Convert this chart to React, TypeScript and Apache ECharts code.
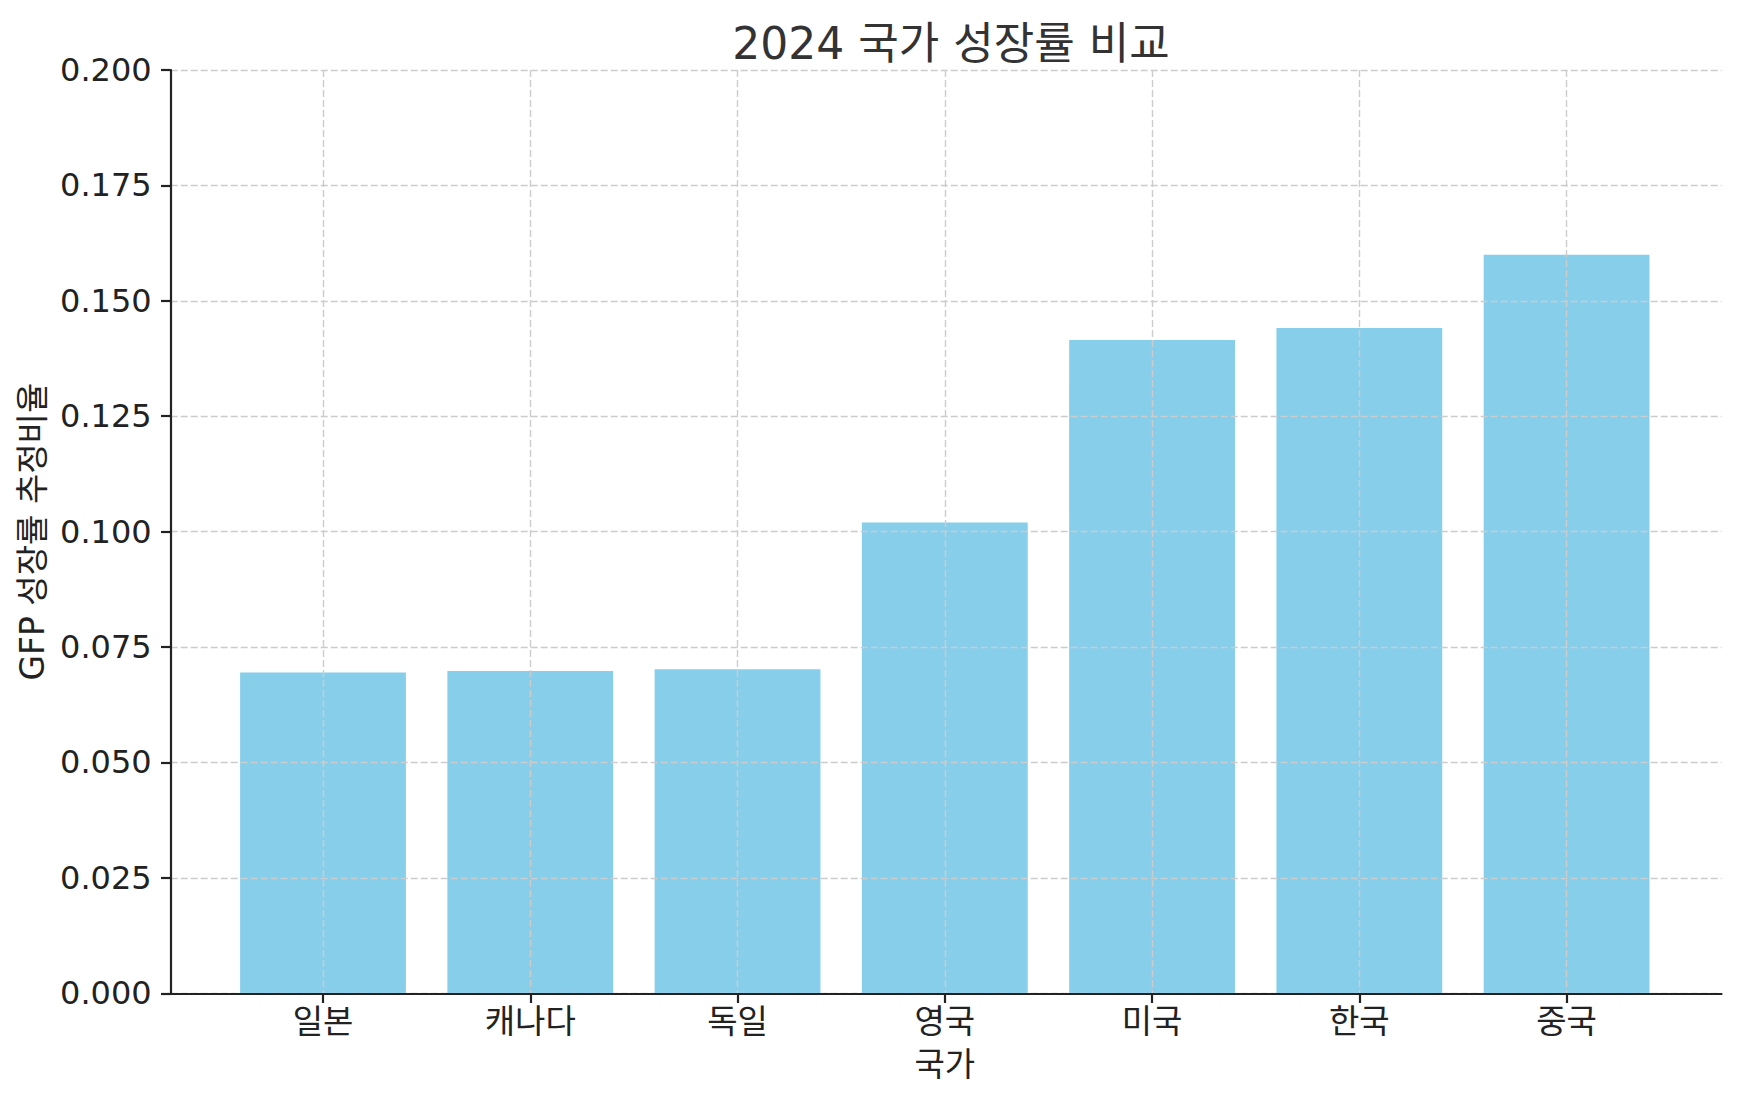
import React, { useEffect, useRef } from "react";
import * as echarts from "echarts";

const titleText = "2024 국가 성장률 비교";
const xAxisTitle = "국가";
const yAxisTitle = "GFP 성장률 추정비율";
const categories = ["일본", "캐나다", "독일", "영국", "미국", "한국", "중국"];
const values = [0.0695, 0.0698, 0.0702, 0.102, 0.1415, 0.1441, 0.16];
const yMin = 0;
const yMax = 0.2;
const yStep = 0.025;

const FONT = '"DejaVu Sans", "Noto Sans CJK KR", sans-serif';
const GRID_COLOR = "#cccccc";
const AXIS_COLOR = "#222222";

export default function App() {
  const ref = useRef<HTMLDivElement>(null);

  useEffect(() => {
    document.body.style.margin = "0";
    document.body.style.overflow = "hidden";
    if (!ref.current) return;
    const chart = echarts.init(ref.current, undefined, { renderer: "svg" });
    const dash = { type: [7, 3] as any, color: GRID_COLOR, width: 1.4 };
    chart.setOption({
      animation: false,
      backgroundColor: "#ffffff",
      title: {
        text: titleText,
        left: 946,
        top: 16,
        textAlign: "center",
        textStyle: { fontFamily: FONT, fontSize: 44, fontWeight: "normal", color: "#333333" },
      },
      grid: [
        { left: 170.7, right: 17.5, top: 70, bottom: 107.7 },
        { left: 323, right: 172.4, top: 70, bottom: 107.7 },
      ],
      xAxis: [
        {
          gridIndex: 0,
          type: "value",
          min: 0,
          max: 1,
          z: 4,
          axisLine: { show: true, lineStyle: { color: AXIS_COLOR, width: 2.2 } },
          axisTick: { show: false },
          axisLabel: { show: false },
          splitLine: { show: false },
        },
        {
          gridIndex: 1,
          type: "category",
          data: categories,
          boundaryGap: false,
          z: 3,
          name: xAxisTitle,
          nameLocation: "middle",
          nameGap: 55,
          nameTextStyle: { fontFamily: FONT, fontSize: 33, color: AXIS_COLOR },
          axisLine: { show: false },
          axisTick: { show: true, inside: false, length: 9.7, lineStyle: { color: AXIS_COLOR, width: 2.2 } },
          axisLabel: { show: true, margin: 12, fontFamily: FONT, fontSize: 33, color: AXIS_COLOR, interval: 0 },
          splitLine: { show: true, interval: 0, lineStyle: dash },
        },
      ],
      yAxis: [
        {
          gridIndex: 0,
          type: "value",
          min: yMin,
          max: yMax,
          interval: yStep,
          z: 3,
          name: yAxisTitle,
          nameLocation: "middle",
          nameRotate: 90,
          nameGap: 121,
          nameTextStyle: { fontFamily: FONT, fontSize: 33, color: AXIS_COLOR },
          axisLine: { show: true, lineStyle: { color: AXIS_COLOR, width: 2.2 } },
          axisTick: { show: true, inside: false, length: 9.7, lineStyle: { color: AXIS_COLOR, width: 2.2 } },
          axisLabel: {
            margin: 19,
            fontFamily: FONT,
            fontSize: 32,
            color: AXIS_COLOR,
            formatter: (v: number) => v.toFixed(3),
          },
          splitLine: { show: true, lineStyle: dash },
        },
        {
          gridIndex: 1,
          type: "value",
          min: yMin,
          max: yMax,
          interval: yStep,
          show: false,
          splitLine: { show: false },
        },
      ],
      series: [
        {
          type: "bar",
          xAxisIndex: 1,
          yAxisIndex: 1,
          data: values,
          barWidth: "80%",
          clip: false,
          z: 2,
          itemStyle: { color: "#87CEEB" },
        },
      ],
    });
    return () => chart.dispose();
  }, []);

  return <div ref={ref} style={{ width: 1739, height: 1101 }} />;
}
